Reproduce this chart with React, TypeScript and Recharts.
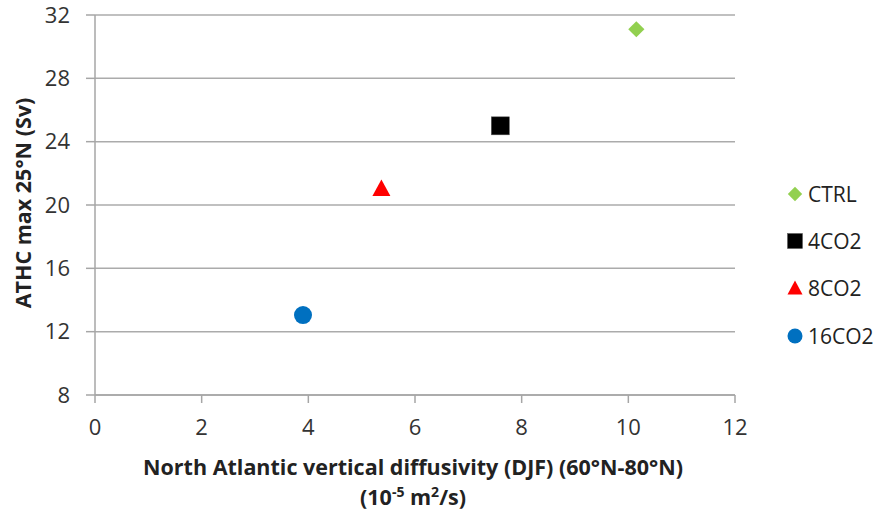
import React from "react";
import {
  ScatterChart,
  Scatter,
  XAxis,
  YAxis,
  CartesianGrid,
  Label,
} from "recharts";

const seriesNames = ["CTRL", "4CO2", "8CO2", "16CO2"];
const seriesColors = ["#92d050", "#000000", "#ff0000", "#0070c0"];
const seriesShapes = ["diamond", "square", "triangle", "circle"];
const xValues = [10.15, 7.6, 5.37, 3.9];
const yValues = [31.1, 25.0, 21.05, 13.05];
const xTicks = [0, 2, 4, 6, 8, 10, 12];
const yTicks = [8, 12, 16, 20, 24, 28, 32];

const FONT = "'Open Sans', 'Noto Sans', sans-serif";

function drawMarker(kind: string, cx: number, cy: number, color: string, s: number) {
  if (kind === "diamond") {
    const h = s * 0.45;
    return (
      <path
        d={`M${cx},${cy - h}L${cx + h},${cy}L${cx},${cy + h}L${cx - h},${cy}Z`}
        fill={color}
      />
    );
  }
  if (kind === "square") {
    const h = s / 2;
    return <rect x={cx - h} y={cy - h} width={s} height={s} fill={color} stroke="#555" strokeWidth={0.5} />;
  }
  if (kind === "triangle") {
    const h = s / 2;
    return (
      <path
        d={`M${cx},${cy - h}L${cx + h},${cy + h * 0.85}L${cx - h},${cy + h * 0.85}Z`}
        fill={color}
      />
    );
  }
  return <circle cx={cx} cy={cy} r={s / 2} fill={color} />;
}

const makeShape = (i: number) => (props: any) => {
  const { cx, cy } = props;
  if (cx == null || cy == null) return <g />;
  return drawMarker(seriesShapes[i], cx, cy, seriesColors[i], 18);
};

const LegendBox = () => (
  <div
    style={{
      position: "absolute",
      left: 787,
      top: 170,
      fontFamily: FONT,
      fontSize: 21,
      color: "#222",
    }}
  >
    {seriesNames.map((n, i) => (
      <div key={n} style={{ display: "flex", alignItems: "center", height: 47.3 }}>
        <svg width={16} height={16} style={{ marginRight: 5 }}>
          {drawMarker(seriesShapes[i], 8, 8, seriesColors[i], i === 0 ? 16 : 15)}
        </svg>
        <span>{n}</span>
      </div>
    ))}
  </div>
);

export default function App() {
  return (
    <div style={{ position: "absolute", left: 0, top: 0, width: 881, height: 514, background: "#fff" }}>
      <ScatterChart
        width={881}
        height={514}
        margin={{ top: 15, right: 146, bottom: 0, left: 0 }}
      >
        <CartesianGrid horizontal vertical={false} stroke="#ababab" strokeWidth={1.5} />
        <XAxis
          type="number"
          dataKey="x"
          domain={[0, 12]}
          ticks={xTicks}
          height={119}
          tickSize={8}
          tickMargin={16}
          stroke="#a6a6a6"
          strokeWidth={1.5}
          tick={{ fill: "#333", fontSize: 22, fontFamily: FONT }}
          interval={0}
          allowDataOverflow
        >
          <Label
            content={() => (
              <g>
                <text
                  x={413}
                  y={475}
                  textAnchor="middle"
                  fontFamily={FONT}
                  fontWeight="bold"
                  fontSize={21.5}
                  fill="#222"
                >
                  North Atlantic vertical diffusivity (DJF) (60°N-80°N)
                </text>
                <text
                  x={413}
                  y={505}
                  textAnchor="middle"
                  fontFamily={FONT}
                  fontWeight="bold"
                  fontSize={21.5}
                  fill="#222"
                >
                  (10<tspan dy={-8} fontSize={14}>-5</tspan>
                  <tspan dy={8}> m</tspan>
                  <tspan dy={-8} fontSize={14}>2</tspan>
                  <tspan dy={8}>/s)</tspan>
                </text>
              </g>
            )}
          />
        </XAxis>
        <YAxis
          type="number"
          dataKey="y"
          domain={[8, 32]}
          ticks={yTicks}
          width={95}
          tickSize={9}
          tickMargin={16}
          stroke="#a6a6a6"
          strokeWidth={1.5}
          tick={{ fill: "#333", fontSize: 22, fontFamily: FONT }}
          interval={0}
          allowDataOverflow
        >
          <Label
            content={() => (
              <text
                x={22}
                y={203}
                transform="rotate(-90 22 203)"
                textAnchor="middle"
                dominantBaseline="central"
                fontFamily={FONT}
                fontWeight="bold"
                fontSize={21.5}
                fill="#222"
              >
                ATHC max 25°N (Sv)
              </text>
            )}
          />
        </YAxis>
        {seriesNames.map((n, i) => (
          <Scatter
            key={n}
            name={n}
            data={[{ x: xValues[i], y: yValues[i] }]}
            fill={seriesColors[i]}
            shape={makeShape(i)}
            isAnimationActive={false}
          />
        ))}
      </ScatterChart>
      <LegendBox />
    </div>
  );
}
